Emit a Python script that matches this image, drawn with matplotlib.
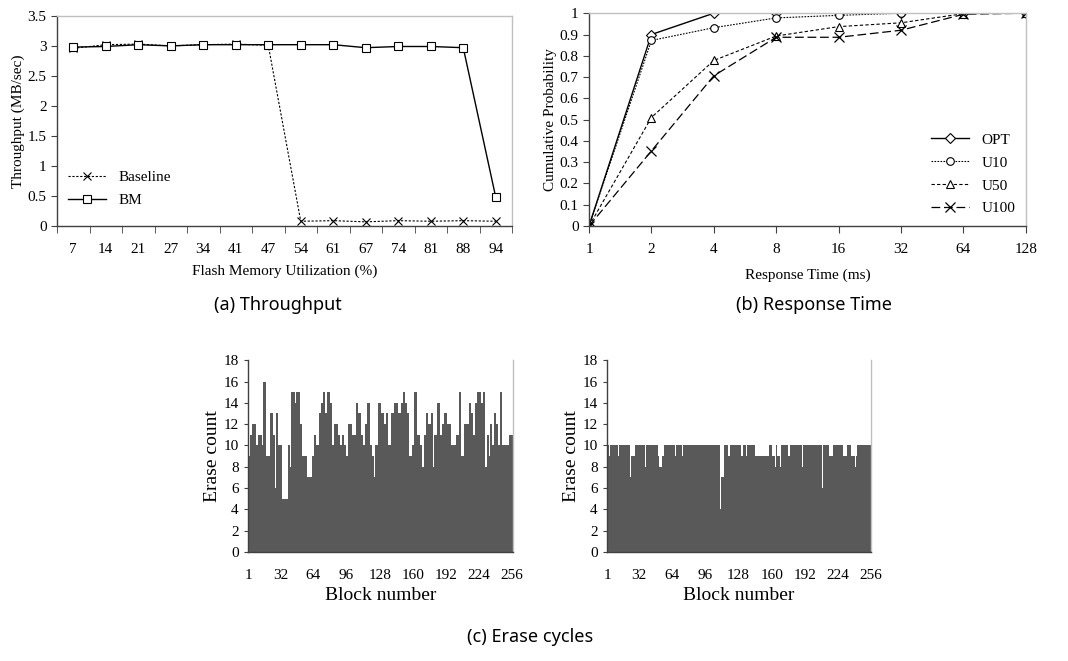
import matplotlib.pyplot as plt
import numpy as np

plt.rcParams['font.family'] = ['Liberation Serif', 'DejaVu Serif']

# (a) throughput
util_labels = ['7', '14', '21', '27', '34', '41', '47', '54', '61', '67', '74', '81', '88', '94']
baseline_tp = [2.96, 3.02, 3.03, 3.00, 3.02, 3.03, 3.01, 0.08, 0.09, 0.07, 0.09, 0.08, 0.09, 0.08]
bm_tp = [2.98, 2.99, 3.02, 3.00, 3.02, 3.02, 3.02, 3.02, 3.02, 2.97, 2.99, 2.99, 2.97, 0.48]

# (b) response time CDF
rt_labels = ['1', '2', '4', '8', '16', '32', '64', '128']
cdf_opt = [0, 0.90, 1.0, 1.0, 1.0, 1.0, 1.0, 1.0]
cdf_u10 = [0, 0.872, 0.932, 0.978, 0.99, 1.0, 1.0, 1.0]
cdf_u50 = [0, 0.51, 0.778, 0.893, 0.937, 0.955, 0.998, 1.0]
cdf_u100 = [0, 0.353, 0.706, 0.887, 0.887, 0.92, 0.995, 1.0]

# (c) erase count per block, before / after
erase_before = [
    11, 9, 11, 11, 12, 12, 12, 12, 10, 10, 11, 11, 11, 11, 10, 16,
    16, 16, 9, 9, 9, 13, 13, 13, 11, 11, 6, 13, 13, 10, 10, 10,
    10, 5, 5, 5, 5, 5, 5, 10, 10, 8, 15, 15, 15, 15, 14, 15,
    15, 15, 12, 12, 9, 9, 9, 9, 9, 7, 7, 7, 7, 7, 9, 9,
    11, 11, 10, 10, 10, 13, 13, 14, 14, 15, 15, 13, 13, 15, 15, 14,
    14, 10, 10, 12, 12, 12, 12, 11, 11, 10, 10, 11, 11, 10, 10, 9,
    9, 12, 12, 12, 12, 11, 11, 11, 11, 14, 14, 13, 13, 11, 11, 10,
    10, 12, 12, 14, 14, 14, 10, 10, 9, 9, 7, 10, 10, 10, 14, 14,
    14, 13, 13, 13, 12, 12, 13, 13, 10, 10, 13, 13, 13, 14, 14, 14,
    14, 13, 13, 13, 14, 14, 15, 15, 14, 14, 13, 13, 9, 9, 9, 10,
    10, 15, 15, 15, 11, 11, 10, 10, 8, 8, 11, 11, 13, 13, 12, 12,
    12, 13, 13, 8, 11, 11, 11, 14, 14, 14, 11, 11, 12, 12, 13, 13,
    13, 12, 12, 12, 10, 10, 10, 10, 10, 11, 11, 11, 15, 15, 9, 9,
    9, 12, 12, 12, 12, 12, 14, 14, 13, 13, 11, 11, 14, 14, 15, 15,
    15, 14, 14, 15, 15, 8, 8, 11, 11, 9, 12, 12, 10, 10, 13, 13,
    12, 12, 10, 10, 15, 15, 10, 10, 10, 10, 10, 10, 11, 11, 11, 11,
]
erase_after = [
    10, 10, 9, 10, 10, 10, 10, 10, 10, 10, 10, 9, 10, 10, 10, 10,
    10, 10, 10, 10, 10, 10, 10, 7, 9, 9, 9, 10, 10, 10, 10, 10,
    10, 10, 10, 10, 10, 8, 10, 10, 10, 10, 10, 10, 10, 10, 10, 10,
    10, 10, 9, 8, 8, 8, 9, 10, 10, 10, 10, 10, 10, 10, 10, 10,
    10, 10, 9, 10, 10, 10, 10, 10, 10, 9, 10, 10, 10, 10, 10, 10,
    10, 10, 10, 10, 10, 10, 10, 10, 10, 10, 10, 10, 10, 10, 10, 10,
    10, 10, 10, 10, 10, 10, 10, 10, 10, 10, 10, 10, 10, 10, 4, 7,
    7, 10, 10, 10, 10, 9, 9, 10, 10, 10, 10, 10, 10, 10, 10, 10,
    10, 10, 9, 9, 10, 10, 10, 9, 10, 10, 10, 10, 10, 10, 10, 9,
    9, 9, 9, 9, 9, 9, 9, 9, 9, 9, 9, 9, 9, 10, 10, 10,
    9, 9, 9, 8, 10, 9, 9, 9, 8, 10, 10, 10, 10, 10, 10, 9,
    9, 10, 10, 10, 10, 10, 10, 10, 10, 10, 10, 10, 10, 8, 10, 10,
    10, 10, 10, 10, 10, 10, 10, 10, 10, 10, 10, 10, 10, 10, 10, 10,
    6, 10, 10, 10, 10, 10, 10, 9, 9, 9, 9, 10, 10, 10, 10, 10,
    10, 10, 10, 10, 9, 9, 9, 9, 10, 10, 10, 10, 9, 9, 9, 9,
    8, 9, 10, 10, 10, 10, 10, 10, 10, 10, 10, 10, 10, 10, 10, 10,
]
block_ticks = [1, 32, 64, 96, 128, 160, 192, 224, 256]

GRAY = '#c0c0c0'
BAR = '#595959'


def excel_frame(ax):
    ax.spines['left'].set_color('#404040')
    ax.spines['bottom'].set_color('#404040')
    ax.spines['top'].set_color(GRAY)
    ax.spines['right'].set_color(GRAY)
    for s in ax.spines.values():
        s.set_linewidth(1.0)
    ax.tick_params(axis='both', labelsize=11, length=4, width=0.8, color='#404040')


fig = plt.figure(figsize=(10.68, 6.61), dpi=100)

# ---- (a) Throughput
ax1 = fig.add_axes([0.0534, 0.658, 0.426, 0.318])
xa = np.arange(len(util_labels))
ax1.plot(xa, baseline_tp, color='black', lw=0.8, ls=(0, (2, 1.5)),
         marker='x', ms=5.5, mew=0.8, label='Baseline')
ax1.plot(xa, bm_tp, color='black', lw=1.0, ls='-',
         marker='s', ms=6, mfc='white', mew=0.8, label='BM')
ax1.set_xlim(-0.5, len(util_labels) - 0.5)
ax1.set_ylim(0, 3.5)
ax1.set_yticks(np.arange(0, 3.51, 0.5))
ax1.set_yticklabels(['0', '0.5', '1', '1.5', '2', '2.5', '3', '3.5'])
ax1.set_xticks(xa)
ax1.set_xticklabels(util_labels)
ax1.set_xticks(np.arange(-0.5, len(util_labels), 1), minor=True)
excel_frame(ax1)
ax1.tick_params(axis='x', which='major', length=0, pad=12)
ax1.tick_params(axis='x', which='minor', length=5, color='#404040')
ax1.set_xlabel('Flash Memory Utilization (%)', fontsize=11, labelpad=6)
ax1.set_ylabel('Throughput (MB/sec)', fontsize=11, labelpad=2)
ax1.legend(loc='lower left', bbox_to_anchor=(0.0, 0.04), frameon=False,
           fontsize=11, handlelength=2.5, borderpad=0.2, labelspacing=0.6)

# ---- (b) Response Time
ax2 = fig.add_axes([0.5515, 0.658, 0.409, 0.322])
xb = np.arange(len(rt_labels))
ax2.plot(xb, cdf_opt, color='black', lw=1.0, ls='-',
         marker='D', ms=5.5, mfc='white', mew=0.8, label='OPT')
ax2.plot(xb, cdf_u10, color='black', lw=0.8, ls=(0, (1.5, 1.2)),
         marker='o', ms=5.5, mfc='white', mew=0.8, label='U10')
ax2.plot(xb, cdf_u50, color='black', lw=0.8, ls=(0, (3, 2)),
         marker='^', ms=5.5, mfc='white', mew=0.8, label='U50')
ax2.plot(xb, cdf_u100, color='black', lw=0.9, ls=(0, (7, 3)),
         marker='x', ms=6.5, mew=0.9, label='U100')
ax2.set_xlim(0, len(rt_labels) - 1)
ax2.set_ylim(0, 1)
ax2.set_yticks(np.arange(0, 1.01, 0.1))
ax2.set_yticklabels(['0'] + ['%.1f' % v for v in np.arange(0.1, 0.95, 0.1)] + ['1'])
ax2.set_xticks(xb)
ax2.set_xticklabels(rt_labels)
excel_frame(ax2)
ax2.tick_params(axis='x', length=5, pad=7)
ax2.set_xlabel('Response Time (ms)', fontsize=11, labelpad=9)
ax2.set_ylabel('Cumulative Probability', fontsize=11, labelpad=2)
ax2.legend(loc='lower right', bbox_to_anchor=(1.0, 0.0), frameon=False,
           fontsize=11, handlelength=2.5, borderpad=0.2, labelspacing=0.6)

# ---- (c) Erase cycles
blocks = np.arange(1, len(erase_before) + 1)
for left, vals in [(0.232, erase_before), (0.568, erase_after)]:
    ax = fig.add_axes([left, 0.165, 0.248, 0.29])
    ax.bar(blocks, vals, width=1.0, color=BAR, linewidth=0)
    ax.set_xlim(0.5, 256.5)
    ax.set_ylim(0, 18)
    ax.set_yticks(np.arange(0, 19, 2))
    ax.set_xticks(block_ticks)
    excel_frame(ax)
    ax.spines['top'].set_visible(False)
    ax.tick_params(axis='x', length=0, pad=12, labelsize=11)
    ax.tick_params(axis='y', length=3, labelsize=11)
    ax.set_xlabel('Block number', fontsize=14, labelpad=4)
    ax.set_ylabel('Erase count', fontsize=14, labelpad=2)

cap = dict(fontsize=13, family=['Noto Sans', 'DejaVu Sans'], ha='center', va='center')
fig.text(278 / 1068, 1 - 305 / 661, '(a) Throughput', **cap)
fig.text(814 / 1068, 1 - 305 / 661, '(b) Response Time', **cap)
fig.text(530 / 1068, 1 - 637 / 661, '(c) Erase cycles', **cap)

fig.savefig('out.png', dpi=100)
